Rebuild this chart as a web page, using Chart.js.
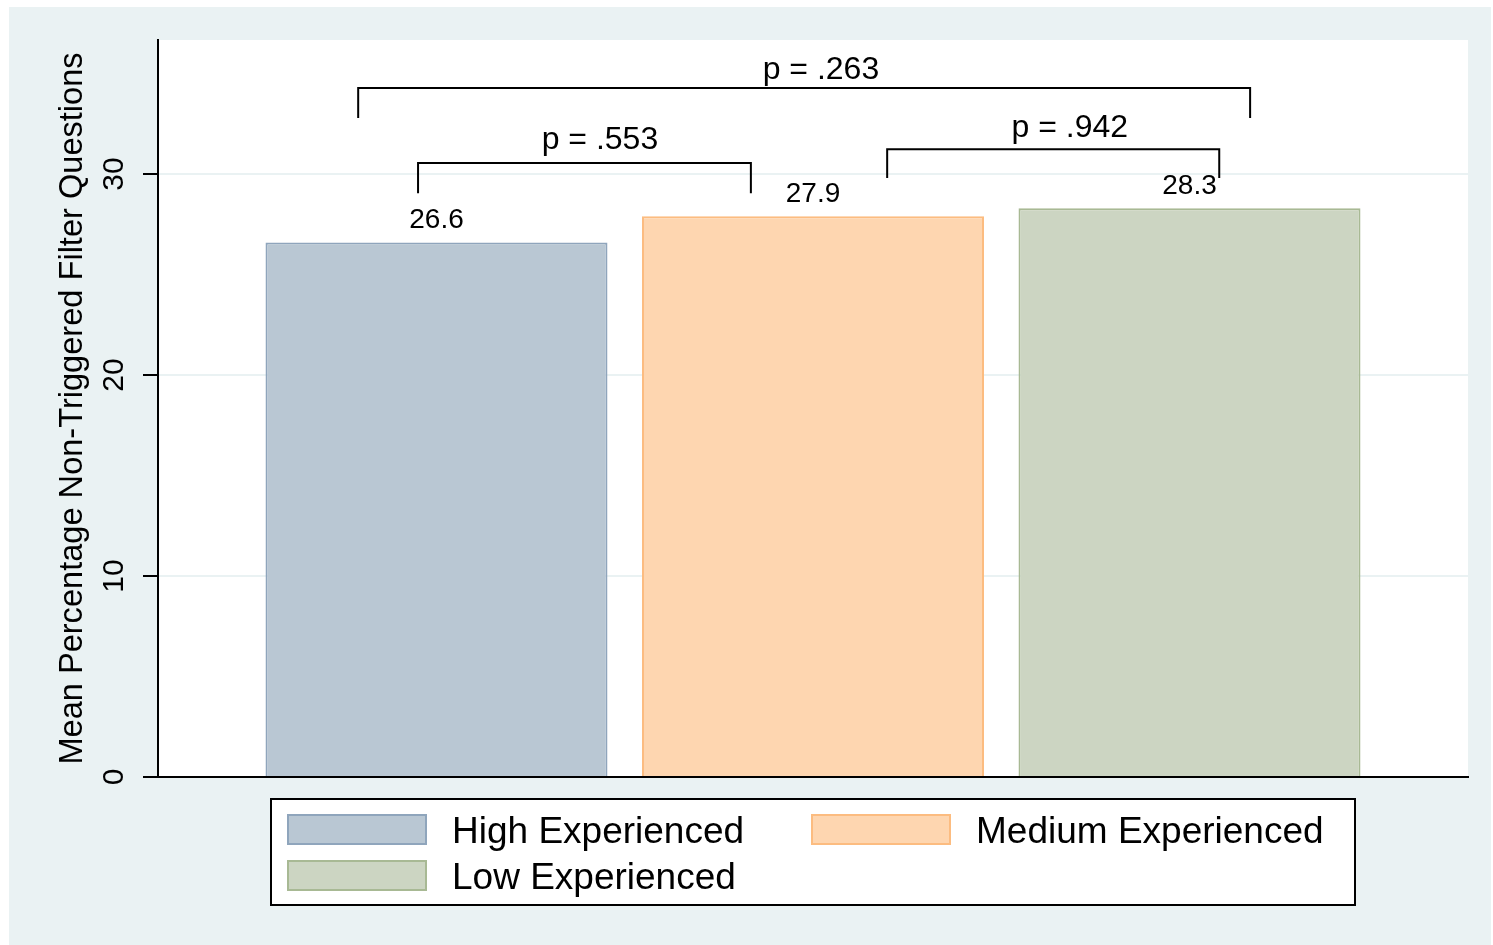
<!DOCTYPE html>
<html>
<head>
<meta charset="utf-8">
<script src="https://cdn.jsdelivr.net/npm/chart.js@4/dist/chart.umd.min.js"></script>
<style>
  html, body { margin: 0; padding: 0; background: #ffffff; }
  #wrap { width: 1493px; height: 945px; position: relative; }
  canvas { display: block; }
</style>
</head>
<body>
<div id="wrap"><canvas id="c" width="1493" height="945"></canvas></div>
<script>
// Experience groups and their mean percentage of non-triggered filter questions
const groups = ['High Experienced', 'Medium Experienced', 'Low Experienced'];
const barPos = [1, 2, 3];
const means = [26.6, 27.9, 28.3];

// y axis
const yTicks = [0, 10, 20, 30];
const yMax = 36.67;

// pairwise comparisons (x in bar-position units, y in data units)
const pLabels = ['p = .263', 'p = .553', 'p = .942'];
const bracketLeft = [0.792, 0.951, 2.197];
const bracketRight = [3.161, 1.835, 3.079];
const bracketTop = [34.28, 30.55, 31.24];
const bracketBottom = [32.79, 29.05, 29.80];
const pLabelX = [2.021, 1.434, 2.682];
const pLabelY = [35.17, 31.69, 32.29];

const FONT = '"Liberation Sans", Arial, Helvetica, sans-serif';
const fills = ['#b9c7d3', '#fed6b0', '#ccd5c2'];
const edges = ['#8fa5bc', '#fcbc80', '#a8b994'];
const PAGE_BG = '#eaf2f3';

const barSets = groups.map((g, i) => ({
  type: 'bar',
  label: g,
  data: [{ x: barPos[i], y: means[i] }],
  backgroundColor: fills[i],
  borderColor: edges[i],
  borderWidth: 2,
  borderSkipped: 'start',
  grouped: false,
  categoryPercentage: 1,
  barPercentage: 0.9084,
  xAxisID: 'x',
  yAxisID: 'y',
  order: 1
}));

const bracketSets = pLabels.map((lab, i) => ({
  type: 'line',
  label: lab,
  data: [
    { x: bracketLeft[i], y: bracketBottom[i] },
    { x: bracketLeft[i], y: bracketTop[i] },
    { x: bracketRight[i], y: bracketTop[i] },
    { x: bracketRight[i], y: bracketBottom[i] }
  ],
  borderColor: '#000000',
  borderWidth: 2,
  pointRadius: 0,
  fill: false,
  tension: 0,
  xAxisID: 'x',
  yAxisID: 'y',
  order: -1
}));

const backdrop = {
  id: 'backdrop',
  beforeDraw(chart) {
    const { ctx, chartArea: a } = chart;
    ctx.save();
    ctx.fillStyle = '#ffffff';
    ctx.fillRect(0, 0, chart.width, chart.height);
    ctx.fillStyle = PAGE_BG;
    ctx.fillRect(9, 7, 1482, 938);
    ctx.fillStyle = '#ffffff';
    ctx.fillRect(a.left, a.top, a.right - a.left, a.bottom - a.top);
    ctx.restore();
  }
};

const annotate = {
  id: 'annotate',
  afterDatasetsDraw(chart) {
    const { ctx } = chart;
    ctx.save();
    ctx.fillStyle = '#000000';
    ctx.textAlign = 'center';
    ctx.textBaseline = 'alphabetic';
    // value above each bar
    ctx.font = '28px ' + FONT;
    chart.data.datasets.forEach((ds, i) => {
      if (ds.type !== 'bar') return;
      const el = chart.getDatasetMeta(i).data[0];
      ctx.fillText(ds.data[0].y.toFixed(1), el.x, el.y - 14);
    });
    // p-values over the brackets
    const xs = chart.scales.x, ys = chart.scales.y;
    ctx.font = '32px ' + FONT;
    ctx.textBaseline = 'middle';
    pLabels.forEach((t, i) => {
      ctx.fillText(t, xs.getPixelForValue(pLabelX[i]), ys.getPixelForValue(pLabelY[i]));
    });
    ctx.restore();
  },
  afterDraw(chart) {
    const { ctx } = chart;
    const ys = chart.scales.y;
    ctx.save();
    // rotated tick labels
    ctx.fillStyle = '#000000';
    ctx.font = '30px ' + FONT;
    ctx.textAlign = 'center';
    ctx.textBaseline = 'middle';
    ys.ticks.forEach(t => {
      const py = ys.getPixelForValue(t.value);
      ctx.save();
      ctx.translate(115, py);
      ctx.rotate(-Math.PI / 2);
      ctx.fillText(String(t.value), 0, 0);
      ctx.restore();
    });

    // legend box
    const box = { x: 271, y: 799, w: 1084, h: 106 };
    ctx.fillStyle = '#ffffff';
    ctx.fillRect(box.x, box.y, box.w, box.h);
    ctx.lineWidth = 2;
    ctx.strokeStyle = '#000000';
    ctx.strokeRect(box.x, box.y, box.w, box.h);
    const slots = [
      { sx: 287, sy: 814 },
      { sx: 811, sy: 814 },
      { sx: 287, sy: 860 }
    ];
    ctx.font = '37px ' + FONT;
    ctx.textAlign = 'left';
    ctx.textBaseline = 'alphabetic';
    chart.data.datasets.filter(d => d.type === 'bar').forEach((ds, i) => {
      const s = slots[i];
      ctx.fillStyle = ds.backgroundColor;
      ctx.fillRect(s.sx, s.sy, 140, 31);
      ctx.strokeStyle = ds.borderColor;
      ctx.lineWidth = 2;
      ctx.strokeRect(s.sx + 1, s.sy + 1, 138, 29);
      ctx.fillStyle = '#000000';
      ctx.fillText(ds.label, s.sx + 165, s.sy + 29);
    });
    ctx.restore();
  }
};

new Chart(document.getElementById('c'), {
  data: {
    datasets: [...barSets, ...bracketSets]
  },
  options: {
    responsive: false,
    animation: false,
    devicePixelRatio: 1,
    events: [],
    layout: { padding: { left: 0, top: 40, right: 25, bottom: 168 } },
    plugins: {
      legend: { display: false },
      tooltip: { enabled: false },
      title: { display: false }
    },
    scales: {
      x: {
        type: 'linear',
        position: 'bottom',
        offset: false,
        min: 0.2603,
        max: 3.7397,
        afterBuildTicks(s) { s.ticks = barPos.map(v => ({ value: v })); },
        grid: { display: false, offset: false },
        ticks: { display: false },
        border: { display: true, color: '#000000', width: 2 },
        afterFit(s) { s.height = 0; }
      },
      y: {
        type: 'linear',
        position: 'left',
        min: 0,
        max: yMax,
        afterBuildTicks(s) { s.ticks = yTicks.map(v => ({ value: v })); },
        ticks: { display: false },
        grid: {
          color: PAGE_BG,
          lineWidth: 2,
          drawTicks: true,
          tickLength: 15,
          tickColor: '#000000',
          tickWidth: 2
        },
        border: { display: true, color: '#000000', width: 2 },
        title: {
          display: true,
          text: 'Mean Percentage Non-Triggered Filter Questions',
          color: '#000000',
          font: { family: FONT, size: 32.6, weight: 'normal' },
          padding: { top: 53, bottom: 0 }
        },
        afterFit(s) { s.width = 158; }
      }
    }
  },
  plugins: [backdrop, annotate]
});
</script>
</body>
</html>
